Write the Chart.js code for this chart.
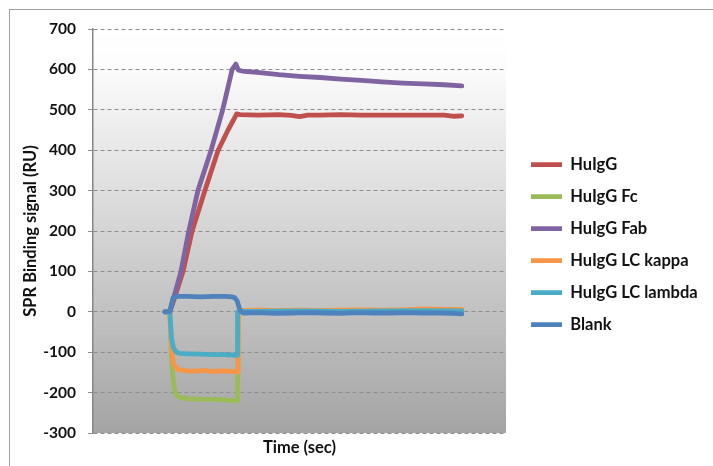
<!DOCTYPE html>
<html>
<head>
<meta charset="utf-8">
<script src="https://cdn.jsdelivr.net/npm/chart.js@4/dist/chart.umd.min.js"></script>
<style>
  html, body { margin: 0; padding: 0; background: #ffffff; }
  #wrap { position: relative; width: 713px; height: 466px; overflow: hidden; }
  #frame { position: absolute; left: 9px; top: 9px; width: 760px; height: 520px; border-left: 1px solid #a0a0a0; border-top: 1px solid #a0a0a0; }
  #c { position: absolute; left: 0; top: 0; }
</style>
</head>
<body>
<div id="wrap">
  <div id="frame"></div>
  <canvas id="c" width="713" height="466"></canvas>
</div>
<script>
// ---- data (time in arbitrary units across the run, signal in RU) ----
const seriesNames = ['HuIgG', 'HuIgG Fc', 'HuIgG Fab', 'HuIgG LC kappa', 'HuIgG LC lambda', 'Blank'];
const seriesColors = ['#C0504D', '#9BBB59', '#8064A2', '#F79646', '#4BACC6', '#4F81BD'];

const huigTime = [17.4, 18.6, 20.1, 21.8, 24.0, 27.1, 30.3, 32.7, 34.8, 35.6, 40, 45, 48, 50, 52, 55, 60, 65, 70, 75, 80, 85, 87.5, 89.3];
const huigRU   = [0, 0, 45, 100, 200, 300, 400, 450, 490, 488, 487, 488, 486, 483, 487, 487, 488, 487, 487, 487, 487, 487, 484, 485];

const fcTime = [17.4, 18.6, 19.0, 19.5, 20.0, 20.6, 21.5, 23, 26, 29, 32, 35.0, 35.15, 36, 40, 50, 60, 70, 80, 89.3];
const fcRU   = [0, 0, -110, -180, -203, -210, -213, -215, -217, -217, -218, -221, 0, 1, 1, 2, 1, 2, 3, 2];

const fabTime = [17.4, 18.6, 21.3, 23.2, 25.4, 28.6, 31.4, 33.7, 34.6, 35.2, 36.1, 40.4, 45, 50, 55, 60, 65, 70, 75, 80, 85, 89.3];
const fabRU   = [0, 0, 100, 200, 300, 400, 500, 600, 613, 598, 596, 592, 587, 583, 580, 576, 573, 569, 566, 564, 562, 559];

const kappaTime = [17.4, 18.6, 19.0, 19.5, 20.2, 21, 23, 25, 27, 29, 31, 33, 35.1, 35.3, 36, 40, 45, 50, 55, 60, 65, 70, 75, 80, 85, 89.3];
const kappaRU   = [0, 0, -90, -128, -140, -144, -146, -147, -145, -148, -146, -147, -149, 2, 3, 4, 3, 4, 3, 4, 5, 4, 5, 7, 6, 6];

const lambdaTime = [17.4, 18.6, 19.0, 19.5, 20.2, 21, 23, 26, 29, 32, 34.9, 35.0, 36, 40, 50, 60, 70, 80, 89.3];
const lambdaRU   = [0, 0, -65, -90, -100, -103, -104, -105, -106, -106, -108, -1, 1, 1, 2, 1, 2, 3, 2];

const blankTime = [17.4, 18.6, 19.4, 20.4, 23, 26, 29, 32, 33.6, 34.3, 34.9, 35.4, 35.9, 36.4, 40, 44, 48, 52, 56, 60, 64, 68, 72, 76, 80, 84, 87, 89.3];
const blankRU   = [0, 1, 35, 38, 38, 37, 38, 38, 37, 35, 27, 10, 0, -3, -2, -4, -3, -2, -3, -4, -2, -3, -3, -2, -3, -3, -4, -5];

const yTickMin = -300, yTickMax = 700, yTickStep = 100;
const xTitle = 'Time (sec)';
const yTitle = 'SPR Binding signal (RU)';

const seriesTimes = [huigTime, fcTime, fabTime, kappaTime, lambdaTime, blankTime];
const seriesValues = [huigRU, fcRU, fabRU, kappaRU, lambdaRU, blankRU];

// ---- chart ----
const FONT = 'Lato';
const legendFontSize = 16.5;
const legendPad = 15.5;
const legendLine = 31;
const legendLeft = 515.5;

function pairs(ts, vs) { return ts.map((t, i) => ({ x: t, y: vs[i] })); }

const datasets = seriesNames.map((name, i) => ({
  label: name,
  data: pairs(seriesTimes[i], seriesValues[i]),
  borderColor: seriesColors[i],
  backgroundColor: seriesColors[i],
  borderWidth: 4.8,
  pointRadius: 0,
  tension: 0,
  borderJoinStyle: 'round',
  borderCapStyle: 'round',
  fill: false,
  order: seriesNames.length - 1 - i
}));

// measure longest legend label to place the legend exactly
const mctx = document.createElement('canvas').getContext('2d');
mctx.font = 'bold ' + legendFontSize + 'px ' + FONT;
const maxText = Math.max(...seriesNames.map(n => mctx.measureText(n).width));
const naturalLegend = legendPad + legendLine + legendFontSize / 2 + maxText + 10;
const legendMax = 713 - legendLeft;
const padRight = Math.max(0, legendMax - naturalLegend);

const bgPlugin = {
  id: 'plotBg',
  beforeDraw(chart) {
    const { ctx, chartArea: a } = chart;
    const g = ctx.createLinearGradient(0, a.top, 0, a.bottom);
    g.addColorStop(0, '#ffffff');
    g.addColorStop(0.08, '#fdfdfd');
    g.addColorStop(1, '#a4a4a4');
    ctx.save();
    ctx.fillStyle = g;
    ctx.fillRect(a.left, a.top, a.right - a.left, a.bottom - a.top);
    ctx.restore();
  }
};

Chart.defaults.font.family = FONT;
Chart.defaults.color = '#111111';

new Chart(document.getElementById('c'), {
  type: 'line',
  data: { datasets },
  plugins: [bgPlugin],
  options: {
    responsive: false,
    animation: false,
    devicePixelRatio: 1,
    layout: { padding: { top: 29, left: 0, bottom: 0, right: padRight } },
    plugins: {
      tooltip: { enabled: false },
      legend: {
        position: 'right',
        fullSize: false,
        maxWidth: legendMax,
        title: { display: true, text: '', font: { size: 10 }, padding: { top: 15.4, bottom: 0 } },
        labels: {
          usePointStyle: true,
          pointStyle: 'line',
          pointStyleWidth: legendLine,
          padding: legendPad,
          color: '#111111',
          font: { size: legendFontSize, weight: 'bold', family: FONT },
          sort: (a, b) => a.datasetIndex - b.datasetIndex
        }
      }
    },
    scales: {
      x: {
        type: 'linear',
        min: 0,
        max: 100,
        ticks: { display: false },
        grid: { display: false },
        border: { display: false },
        title: { display: true, text: xTitle, color: '#111111', font: { size: 16.5, weight: 'bold' }, padding: { top: 0, bottom: 8 } },
        afterFit: (s) => { s.height = 33; }
      },
      y: {
        type: 'linear',
        position: 'left',
        min: yTickMin,
        max: yTickMax,
        ticks: { stepSize: yTickStep, padding: 12, color: '#111111', font: { size: 15.5, weight: 'bold' } },
        grid: { color: '#8e8e8e', lineWidth: 1, tickLength: 5, tickColor: '#8e8e8e', tickBorderDash: [] },
        border: { display: true, color: '#868686', width: 1.5, dash: [4, 3] },
        title: { display: true, text: yTitle, color: '#111111', font: { size: 16.5, weight: 'bold' }, padding: { top: 21, bottom: 0 } },
        afterFit: (s) => { s.width = 93; }
      },
      yR: {
        type: 'linear',
        position: 'right',
        display: true,
        ticks: { display: false },
        grid: { display: false },
        border: { display: false },
        afterFit: (s) => { s.width = 9.5; }
      }
    }
  }
});
</script>
</body>
</html>
